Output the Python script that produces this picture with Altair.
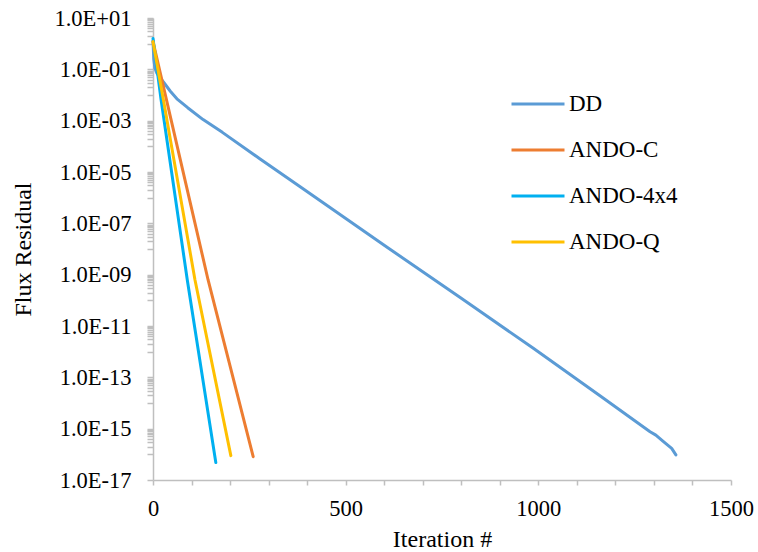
import altair as alt
import pandas as pd

# ---- data ----
series_names = ["DD", "ANDO-C", "ANDO-4x4", "ANDO-Q"]
series_colors = ["#5B9BD5", "#ED7D31", "#00B0F0", "#FFC000"]

dd_iter = [0, 2, 5, 10, 18, 30, 45, 62, 90, 130, 180, 278, 381, 600, 800, 987,
           1160, 1290, 1305, 1324, 1346, 1357]
dd_res = [1.3, 0.25, 0.11, 7.1e-2, 4.8e-2, 2.8e-2, 1.4e-2, 7.1e-3, 3.2e-3, 1.1e-3,
          3.5e-4, 3.2e-5, 2.7e-6, 1.4e-8, 1.2e-10, 1.35e-12, 1.9e-14, 7.6e-16,
          5.6e-16, 3.2e-16, 1.7e-16, 9.5e-17]

andoc_iter = [0, 35, 143, 260]
andoc_res = [1.2, 6.5e-3, 6.2e-10, 8.1e-17]

ando4_iter = [0, 21, 89, 163]
ando4_res = [1.6, 6.5e-3, 6.2e-10, 4.8e-17]

andoq_iter = [0, 27, 109, 202]
andoq_res = [1.2, 6.5e-3, 6.2e-10, 8.9e-17]

x_ticks = list(range(0, 1501, 100))
y_major = [1e1, 1e-1, 1e-3, 1e-5, 1e-7, 1e-9, 1e-11, 1e-13, 1e-15, 1e-17]
y_minor = [n * 10.0 ** e for e in range(-16, 1, 2) for n in range(1, 10)]
y_ticks = sorted(y_major + y_minor)

rows = []
for name, its, res in [("DD", dd_iter, dd_res), ("ANDO-C", andoc_iter, andoc_res),
                       ("ANDO-4x4", ando4_iter, ando4_res), ("ANDO-Q", andoq_iter, andoq_res)]:
    for i, r in zip(its, res):
        rows.append({"series": name, "iteration": i, "residual": r})
df = pd.DataFrame(rows)

FONT = "Liberation Serif"
AX = "#BFBFBF"

exp = "round(log(datum.value)/LN10)"
y_label_expr = (
    f"(abs(log(datum.value)/LN10 - {exp}) < 1e-6 && {exp} % 2 != 0) ? "
    f"('1.0E' + ({exp} >= 0 ? '+' : '-') + (abs({exp}) < 10 ? '0' : '') + abs({exp})) : ''"
)

chart = alt.Chart(df).mark_line(strokeWidth=3, strokeCap="round", strokeJoin="round").encode(
    x=alt.X("iteration:Q",
            scale=alt.Scale(domain=[0, 1500], nice=False, zero=False),
            axis=alt.Axis(values=x_ticks, format="d",
                          labelExpr="datum.value % 500 == 0 ? datum.label : ''",
                          title="Iteration #", grid=False, tickSize=5, labelPadding=12,
                          titlePadding=8, labelOverlap=False, labelFlush=False)),
    y=alt.Y("residual:Q",
            scale=alt.Scale(type="log", domain=[1e-17, 1e1], nice=False),
            axis=alt.Axis(values=y_ticks, labelExpr=y_label_expr, title="Flux Residual",
                          grid=False, tickSize=6, labelPadding=16, titlePadding=18,
                          labelOverlap=False, labelFlush=False)),
    color=alt.Color("series:N",
                    scale=alt.Scale(domain=series_names, range=series_colors),
                    legend=alt.Legend(title=None, orient="none", legendX=357, legendY=58,
                                      symbolType="stroke", symbolSize=2809,
                                      symbolStrokeWidth=3, labelOffset=3,
                                      labelFontSize=23, labelFont=FONT, labelColor="black",
                                      rowPadding=6, padding=0)),
).properties(
    width=578, height=462,
    autosize=alt.AutoSizeParams(type="none"),
    padding={"left": 153, "top": 18, "right": 27, "bottom": 72},
).configure_view(
    stroke=None
).configure_axis(
    domainColor=AX, tickColor=AX, domainWidth=1.5, tickWidth=1.5,
    labelFont=FONT, labelFontSize=22.5, labelColor="black",
    titleFont=FONT, titleFontSize=24, titleFontWeight="normal", titleColor="black",
)

chart.save("out.html", embed_options={"renderer": "svg", "actions": False})
